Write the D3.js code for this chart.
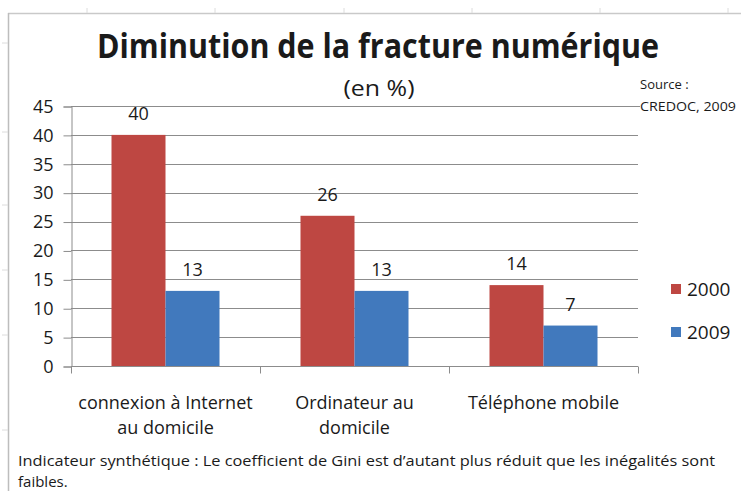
<!DOCTYPE html>
<html>
<head>
<meta charset="utf-8">
<script src="https://cdn.jsdelivr.net/npm/d3@7"></script>
<style>
  body { margin: 0; background: #fff; }
  svg { display: block; }
  text { font-family: "Open Sans", "DejaVu Sans", sans-serif; fill: #1a1a1a; }
</style>
</head>
<body>
<script>
// data
var categories = [["connexion à Internet", "au domicile"], ["Ordinateur au", "domicile"], ["Téléphone mobile"]];
var seriesNames = ["2000", "2009"];
var values2000 = [40, 26, 14];
var values2009 = [13, 13, 7];
var yTicks = [0, 5, 10, 15, 20, 25, 30, 35, 40, 45];
var colors = ["#BE4742", "#4179BD"];

var W = 741, H = 491;
var svg = d3.select("body").append("svg").attr("width", W).attr("height", H);

// faint spreadsheet frame behind the chart
svg.append("line").attr("x1", 8).attr("x2", W).attr("y1", 13.5).attr("y2", 13.5)
    .attr("stroke", "#c9c9c9").attr("stroke-width", 1.5);
svg.append("line").attr("x1", 8.5).attr("x2", 8.5).attr("y1", 13).attr("y2", H)
    .attr("stroke", "#bdbdbd").attr("stroke-width", 1.5);
[87, 215, 344, 472, 600, 728].forEach(function(x) {
  svg.append("line").attr("x1", x).attr("x2", x).attr("y1", 8).attr("y2", 13)
    .attr("stroke", "#dcdcdc");
});
[43, 132, 205, 270, 335, 430].forEach(function(y) {
  svg.append("line").attr("x1", 2).attr("x2", 8).attr("y1", y).attr("y2", y)
    .attr("stroke", "#dcdcdc");
});

// title
svg.append("text").attr("x", 378).attr("y", 58).attr("text-anchor", "middle")
    .attr("font-size", 34).attr("font-weight", "bold")
    .attr("textLength", 562).attr("lengthAdjust", "spacingAndGlyphs")
    .text("Diminution de la fracture numérique");
svg.append("text").attr("x", 379).attr("y", 96).attr("text-anchor", "middle")
    .attr("font-size", 22).attr("textLength", 71).attr("lengthAdjust", "spacingAndGlyphs")
    .text("(en %)");
svg.append("text").attr("x", 640).attr("y", 89).attr("font-size", 13)
    .text("Source :");
svg.append("text").attr("x", 640).attr("y", 111).attr("font-size", 13)
    .attr("textLength", 96).attr("lengthAdjust", "spacingAndGlyphs")
    .text("CREDOC, 2009");

// scales
var plotLeft = 71, plotRight = 638, plotTop = 106, plotBottom = 366;
var y = d3.scaleLinear().domain([0, 45]).range([plotBottom, plotTop]);
var x0 = d3.scaleBand().domain(d3.range(categories.length)).range([plotLeft, plotRight]).padding(0);
var x1 = d3.scaleBand().domain(seriesNames).range([0, x0.bandwidth()])
    .paddingInner(0).paddingOuter(0.75);

// gridlines
svg.append("g").selectAll("line").data(yTicks).join("line")
    .attr("x1", plotLeft).attr("x2", function(d) { return d === 45 ? 640 : plotRight; })
    .attr("y1", function(d) { return Math.round(y(d)) + 0.5; })
    .attr("y2", function(d) { return Math.round(y(d)) + 0.5; })
    .attr("stroke", "#8c8c8c").attr("stroke-width", 1);

// y axis
var yAxis = svg.append("g").attr("transform", "translate(" + (plotLeft + 0.5) + ",0.5)")
    .call(d3.axisLeft(y).tickValues(yTicks).tickSize(8).tickPadding(10));
yAxis.select(".domain").attr("stroke", "#8c8c8c");
yAxis.selectAll(".tick line").attr("stroke", "#8c8c8c");
yAxis.selectAll(".tick text").attr("font-size", 18).attr("fill", "#1a1a1a")
    .attr("font-family", "'Open Sans', sans-serif");

// x axis (category ticks)
var xAxis = svg.append("g").attr("transform", "translate(0," + (plotBottom + 0.5) + ")");
xAxis.append("line").attr("x1", plotLeft).attr("x2", plotRight).attr("stroke", "#8c8c8c");
xAxis.selectAll("line.tk").data(d3.range(categories.length + 1)).join("line")
    .attr("class", "tk")
    .attr("x1", function(i) { return Math.round(plotLeft + i * x0.step()) + 0.5; })
    .attr("x2", function(i) { return Math.round(plotLeft + i * x0.step()) + 0.5; })
    .attr("y1", 0).attr("y2", 7).attr("stroke", "#8c8c8c");

// bars
var series = [values2000, values2009];
var groups = svg.append("g").selectAll("g").data(categories).join("g")
    .attr("transform", function(d, i) { return "translate(" + x0(i) + ",0)"; });

groups.each(function(c, i) {
  var g = d3.select(this);
  seriesNames.forEach(function(s, k) {
    var v = series[k][i];
    g.append("rect")
      .attr("x", x1(s)).attr("width", x1.bandwidth())
      .attr("y", y(v)).attr("height", plotBottom - y(v))
      .attr("fill", colors[k]);
    g.append("text")
      .attr("x", x1(s) + x1.bandwidth() / 2)
      .attr("y", y(v) - 15)
      .attr("text-anchor", "middle").attr("font-size", 18)
      .text(v);
  });
  // category label
  var t = g.append("text").attr("text-anchor", "middle").attr("font-size", 18)
      .attr("x", x0.bandwidth() / 2).attr("y", 409);
  c.forEach(function(line, j) {
    t.append("tspan").attr("x", x0.bandwidth() / 2).attr("dy", j === 0 ? 0 : 25).text(line);
  });
});

// legend
var legend = svg.append("g").attr("transform", "translate(671,284)");
seriesNames.forEach(function(s, k) {
  legend.append("rect").attr("x", 0).attr("y", k * 43).attr("width", 10).attr("height", 10)
      .attr("fill", colors[k]);
  legend.append("text").attr("x", 16).attr("y", k * 43 + 12).attr("font-size", 19).text(s);
});

// footnote
svg.append("text").attr("x", 18).attr("y", 466).attr("font-size", 15)
    .attr("textLength", 697).attr("lengthAdjust", "spacingAndGlyphs")
    .text("Indicateur synthétique : Le coefficient de Gini est d’autant plus réduit que les inégalités sont");
svg.append("text").attr("x", 18).attr("y", 487).attr("font-size", 15)
    .text("faibles.");
</script>
</body>
</html>
